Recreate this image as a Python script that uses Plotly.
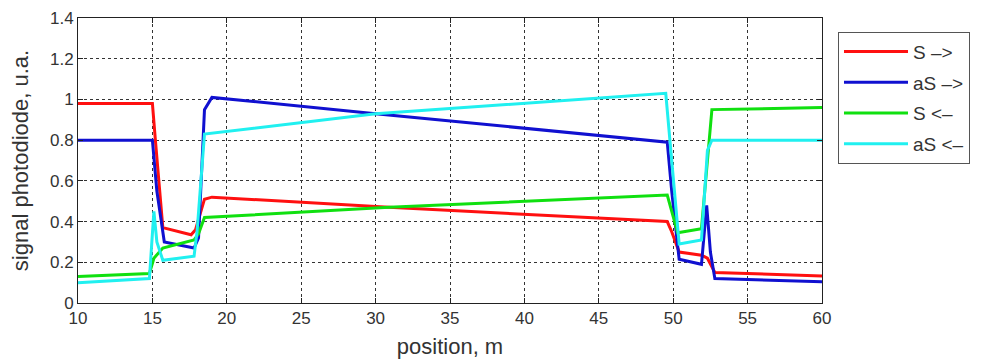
import plotly.graph_objects as go

# ---- data ----
red_x = [10, 15.0, 15.2, 15.7, 17.6, 17.9, 18.5, 19.0, 30.9, 49.6, 49.9, 50.4, 51.9, 52.3, 52.8, 60]
red_y = [0.98, 0.98, 0.80, 0.37, 0.335, 0.36, 0.51, 0.52, 0.47, 0.40, 0.35, 0.25, 0.235, 0.22, 0.15, 0.133]

blue_x = [10, 15.0, 15.3, 15.8, 17.8, 18.1, 18.5, 19.0, 30.0, 49.6, 49.9, 50.4, 51.9, 52.25, 52.5, 52.8, 60]
blue_y = [0.80, 0.80, 0.55, 0.30, 0.27, 0.32, 0.95, 1.01, 0.93, 0.79, 0.55, 0.215, 0.19, 0.48, 0.25, 0.12, 0.105]

green_x = [10, 14.8, 15.1, 15.7, 17.8, 18.1, 18.5, 30.9, 49.6, 49.9, 50.3, 51.9, 52.2, 52.6, 60]
green_y = [0.13, 0.145, 0.22, 0.27, 0.31, 0.34, 0.42, 0.47, 0.53, 0.45, 0.345, 0.365, 0.60, 0.95, 0.96]

cyan_x = [10, 14.8, 15.1, 15.3, 15.7, 17.8, 18.0, 18.5, 30.0, 49.5, 49.9, 50.4, 51.9, 52.3, 52.6, 60]
cyan_y = [0.10, 0.12, 0.45, 0.30, 0.21, 0.23, 0.35, 0.83, 0.93, 1.03, 0.70, 0.29, 0.31, 0.75, 0.80, 0.80]

series_names = ["S –>", "aS –>", "S <–", "aS <–"]
series_colors = ["#ff1010", "#1010d0", "#10e010", "#20f0f0"]

x_ticks = [10, 15, 20, 25, 30, 35, 40, 45, 50, 55, 60]
y_ticks = [0, 0.2, 0.4, 0.6, 0.8, 1.0, 1.2, 1.4]
y_tick_labels = ["0", "0.2", "0.4", "0.6", "0.8", "1", "1.2", "1.4"]

xs = [red_x, blue_x, green_x, cyan_x]
ys = [red_y, blue_y, green_y, cyan_y]

fig = go.Figure()
for i, (x, y) in enumerate(zip(xs, ys)):
    fig.add_trace(go.Scatter(
        x=x, y=y, mode="lines", name=series_names[i],
        legendgroup=f"g{i}",
        line=dict(color=series_colors[i], width=3),
    ))

font_family = "Liberation Sans, Arial, sans-serif"

axis_common = dict(
    showline=True, linecolor="#222", linewidth=1, mirror="ticks",
    ticks="inside", ticklen=5, tickcolor="#222",
    showgrid=True, gridcolor="#333", griddash="dot", gridwidth=1,
    zeroline=False, automargin=False,
    tickfont=dict(family=font_family, size=17, color="#333"),
)

# the page body has an 8px margin, so the figure is made 8px smaller
fig.update_layout(
    width=975, height=351,
    margin=dict(l=70, r=161, t=10, b=56),
    paper_bgcolor="white", plot_bgcolor="white",
    font=dict(family=font_family, color="#333"),
    xaxis=dict(range=[10, 60], tickvals=x_ticks, **axis_common,
               title=dict(text="position, m", font=dict(size=22), standoff=11)),
    yaxis=dict(range=[0, 1.4], tickvals=y_ticks, ticktext=y_tick_labels, **axis_common,
               title=dict(text="signal photodiode, u.a.", font=dict(size=22), standoff=16)),
    legend=dict(
        x=1.0215, y=0.952, xanchor="left", yanchor="top",
        bordercolor="#555", borderwidth=1, bgcolor="white",
        font=dict(family=font_family, size=19, color="#333"),
        itemwidth=64, tracegroupgap=3, traceorder="grouped",
    ),
    showlegend=True,
)

fig.write_html("out.html")
